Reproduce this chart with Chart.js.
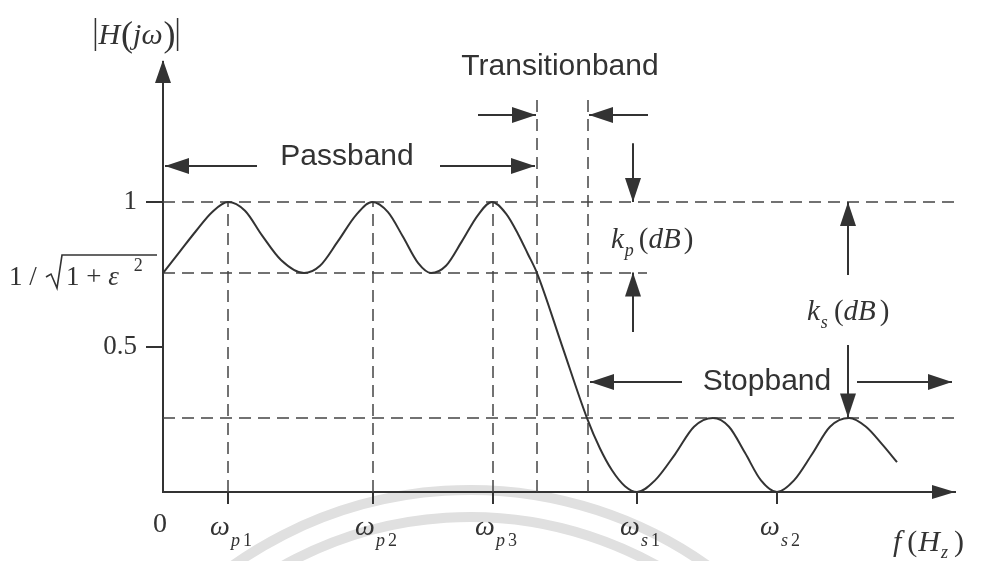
<!DOCTYPE html>
<html>
<head>
<meta charset="utf-8">
<script src="https://cdn.jsdelivr.net/npm/chart.js@4.4.1/dist/chart.umd.min.js"></script>
<style>
  html, body { margin: 0; padding: 0; background: #fff; }
  #wrap { width: 983px; height: 561px; }
</style>
</head>
<body>
<div id="wrap"><canvas id="filterChart" width="983" height="561"></canvas></div>
<script>
// Magnitude response |H(jw)| (x in arbitrary frequency units)
const curveX = [0, 1.7, 3.3, 4.9, 6.5, 8.2, 9.9, 11.8, 14.1, 15.7, 17.5, 19.3, 20.9, 22.5, 24.0, 25.5, 26.8, 28.3, 29.9, 31.5, 32.9, 34.3, 35.5, 36.5, 37.4, 39.9, 42.4, 43.7, 44.9, 46.2, 47.4, 49.2, 51.2, 53.1, 55.0, 56.6, 58.2, 59.8, 61.4, 63.1, 64.9, 66.7, 68.6, 70.3, 71.9, 73.4];
const curveY = [0.755, 0.83, 0.90, 0.965, 1.0, 0.97, 0.885, 0.80, 0.755, 0.78, 0.865, 0.955, 1.0, 0.965, 0.88, 0.79, 0.755, 0.78, 0.865, 0.955, 1.0, 0.96, 0.89, 0.82, 0.755, 0.505, 0.255, 0.15, 0.075, 0.02, 0, 0.04, 0.13, 0.225, 0.255, 0.225, 0.135, 0.04, 0, 0.04, 0.13, 0.225, 0.255, 0.225, 0.165, 0.103];

// Tick positions and labels
const xTickVals = [0, 6.5, 21, 33, 47.4, 61.4];
const xTickSym  = ['0', 'ω', 'ω', 'ω', 'ω', 'ω'];
const xTickSubL = ['', 'p', 'p', 'p', 's', 's'];
const xTickSubN = ['', '1', '2', '3', '1', '2'];
const yTickVals = [0.5, 1];
const yTickLabels = ['0.5', '1'];

// Dashed guide lines
const hLevels = [1, 0.755, 0.255];
const hEnds   = [79.2, 48.4, 79.2];
const vMarks  = [6.5, 21, 33, 37.4, 42.5];
const vTops   = [1, 1, 1, 1.352, 1.352];

// Annotation arrows [x0, y0, x1(tip), y1(tip)]
const arrows = [
  [9.4, 1.124, 0.2, 1.124],
  [27.7, 1.124, 37.2, 1.124],
  [31.5, 1.30, 37.3, 1.30],
  [48.5, 1.30, 42.6, 1.30],
  [47.0, 1.203, 47.0, 1.0],
  [47.0, 0.552, 47.0, 0.757],
  [68.5, 0.748, 68.5, 1.0],
  [68.5, 0.507, 68.5, 0.257],
  [51.9, 0.379, 42.7, 0.379],
  [69.4, 0.379, 78.9, 0.379]
];

const bandNames = ['Passband', 'Transitionband', 'Stopband'];
const bandX = [18.4, 39.7, 60.4];
const bandY = [1.155, 1.466, 0.379];

const INK = '#333';
const SERIF = '"Liberation Serif", "Times New Roman", serif';

const datasets = [{
  data: curveX.map((x, i) => ({ x: x, y: curveY[i] })),
  borderColor: INK,
  borderWidth: 2,
  pointRadius: 0,
  cubicInterpolationMode: 'monotone'
}];
hLevels.forEach((lv, i) => {
  datasets.push({
    data: [{ x: 0, y: lv }, { x: hEnds[i], y: lv }],
    borderColor: '#444', borderWidth: 1.5, borderDash: [12, 7], pointRadius: 0
  });
});
vMarks.forEach((xv, i) => {
  datasets.push({
    data: [{ x: xv, y: 0 }, { x: xv, y: vTops[i] }],
    borderColor: '#444', borderWidth: 1.5, borderDash: [12, 7], pointRadius: 0
  });
});

function fontFor(r) {
  return (r.it ? 'italic ' : '') + (r.size || 28) + 'px ' + SERIF;
}

// draw a row of text runs (for subscripts / italics); returns [start, end]
function drawRuns(ctx, runs, x, y, align) {
  let w = 0;
  runs.forEach(r => {
    ctx.font = fontFor(r);
    r.w = ctx.measureText(r.t).width;
    w += r.w + (r.gap || 0);
  });
  let cx = align === 'center' ? x - w / 2 : x;
  const start = cx;
  runs.forEach(r => {
    ctx.font = fontFor(r);
    ctx.fillText(r.t, cx, y + (r.dy || 0));
    cx += r.w + (r.gap || 0);
  });
  return [start, cx];
}

function arrowHead(ctx, x0, y0, x1, y1, len, half) {
  const a = Math.atan2(y1 - y0, x1 - x0);
  ctx.beginPath();
  ctx.moveTo(x1, y1);
  ctx.lineTo(x1 - len * Math.cos(a) + half * Math.sin(a), y1 - len * Math.sin(a) - half * Math.cos(a));
  ctx.lineTo(x1 - len * Math.cos(a) - half * Math.sin(a), y1 - len * Math.sin(a) + half * Math.cos(a));
  ctx.closePath();
  ctx.fill();
}

const decor = {
  id: 'decor',
  beforeDraw(chart) {
    // faint watermark arcs
    const ctx = chart.ctx;
    ctx.save();
    ctx.strokeStyle = '#e0e0e0';
    ctx.lineWidth = 10;
    ctx.beginPath();
    ctx.arc(470, 900, 410, Math.PI * 1.1, Math.PI * 1.9);
    ctx.stroke();
    ctx.beginPath();
    ctx.arc(470, 900, 383, Math.PI * 1.1, Math.PI * 1.9);
    ctx.stroke();
    ctx.restore();
  },
  afterDraw(chart) {
    const ctx = chart.ctx;
    const xs = chart.scales.x, ys = chart.scales.y;
    const area = chart.chartArea;
    ctx.save();
    ctx.fillStyle = INK;
    ctx.strokeStyle = INK;
    ctx.lineWidth = 2;

    // axis arrow heads
    arrowHead(ctx, area.right - 10, area.bottom, area.right, area.bottom, 23, 7);
    arrowHead(ctx, area.left, area.top + 10, area.left, area.top - 2, 23, 8);

    // annotation arrows
    arrows.forEach(a => {
      const x0 = xs.getPixelForValue(a[0]), y0 = ys.getPixelForValue(a[1]);
      const x1 = xs.getPixelForValue(a[2]), y1 = ys.getPixelForValue(a[3]);
      ctx.beginPath();
      ctx.moveTo(x0, y0);
      ctx.lineTo(x1, y1);
      ctx.stroke();
      arrowHead(ctx, x0, y0, x1, y1, 24, 8);
    });

    // band names
    ctx.font = '30px "Liberation Sans", Arial, sans-serif';
    ctx.textAlign = 'center';
    ctx.textBaseline = 'middle';
    bandNames.forEach((t, i) => {
      ctx.fillText(t, xs.getPixelForValue(bandX[i]), ys.getPixelForValue(bandY[i]));
    });

    ctx.textAlign = 'left';
    ctx.textBaseline = 'alphabetic';

    // x tick labels with subscripts
    xTickVals.forEach((v, i) => {
      const px = xs.getPixelForValue(v);
      if (!xTickSubL[i]) {
        drawRuns(ctx, [{ t: xTickSym[i], size: 28 }], px - 3, area.bottom + 40, 'center');
      } else {
        drawRuns(ctx, [
          { t: xTickSym[i], it: true, size: 28, gap: 1 },
          { t: xTickSubL[i], it: true, size: 18, dy: 11, gap: 3 },
          { t: xTickSubN[i], size: 18, dy: 11 }
        ], px + 3, area.bottom + 43, 'center');
      }
    });

    // 1 / sqrt(1 + e^2) level label
    const yl = ys.getPixelForValue(0.755);
    ctx.font = '27px ' + SERIF;
    ctx.fillText('1 /', 9, yl + 12);
    ctx.lineWidth = 1.6;
    ctx.beginPath();
    ctx.moveTo(46, yl + 4);
    ctx.lineTo(51, yl + 1);
    ctx.lineTo(57, yl + 15);
    ctx.lineTo(62, yl - 18);
    ctx.lineTo(157, yl - 18);
    ctx.stroke();
    drawRuns(ctx, [
      { t: '1 + ', size: 27 },
      { t: 'ε', it: true, size: 27, gap: 15 },
      { t: '2', size: 18, dy: -14 }
    ], 66, yl + 12, 'left');

    // k_p(dB) and k_s(dB)
    drawRuns(ctx, [
      { t: 'k', it: true, size: 29, gap: 1 },
      { t: 'p', it: true, size: 18, dy: 8, gap: 5 },
      { t: '(', size: 29 },
      { t: 'dB', it: true, size: 29, gap: 3 },
      { t: ')', size: 29 }
    ], xs.getPixelForValue(44.8), ys.getPixelForValue(0.841), 'left');
    drawRuns(ctx, [
      { t: 'k', it: true, size: 29, gap: 1 },
      { t: 's', it: true, size: 18, dy: 8, gap: 6 },
      { t: '(', size: 29 },
      { t: 'dB', it: true, size: 29, gap: 4 },
      { t: ')', size: 29 }
    ], xs.getPixelForValue(64.4), ys.getPixelForValue(0.593), 'left');

    // x axis title f(Hz)
    drawRuns(ctx, [
      { t: 'f', it: true, size: 30, gap: 6 },
      { t: '(', size: 30, gap: 1 },
      { t: 'H', it: true, size: 30, gap: 1 },
      { t: 'z', it: true, size: 18, dy: 7, gap: 6 },
      { t: ')', size: 30 }
    ], area.right - 62, area.bottom + 59, 'left');

    // y axis title |H(jw)|
    const span = drawRuns(ctx, [
      { t: 'H', it: true, size: 30, gap: 1 },
      { t: '(', size: 36, dy: 2 },
      { t: 'jω', it: true, size: 30, gap: 1 },
      { t: ')', size: 36, dy: 2 }
    ], area.left - 26, 44, 'center');
    ctx.lineWidth = 1.5;
    ctx.beginPath();
    ctx.moveTo(span[0] - 3, 18); ctx.lineTo(span[0] - 3, 51);
    ctx.moveTo(span[1] + 2, 18); ctx.lineTo(span[1] + 2, 51);
    ctx.stroke();

    ctx.restore();
  }
};

new Chart(document.getElementById('filterChart'), {
  type: 'line',
  data: { datasets: datasets },
  options: {
    responsive: false,
    animation: false,
    layout: { padding: { left: 0, top: 62, right: 28, bottom: 0 } },
    plugins: { legend: { display: false }, tooltip: { enabled: false } },
    scales: {
      x: {
        type: 'linear',
        min: 0,
        max: 79.2,
        afterFit: s => { s.height = 69; },
        afterBuildTicks: s => { s.ticks = xTickVals.map(v => ({ value: v })); },
        ticks: { autoSkip: false, callback: () => '' },
        grid: {
          drawOnChartArea: false,
          tickLength: 12,
          lineWidth: 2,
          color: c => (c.tick && c.tick.value === 0) ? 'rgba(0,0,0,0)' : INK
        },
        border: { color: INK, width: 2 }
      },
      y: {
        min: 0,
        max: 1.4828,
        afterFit: s => { s.width = 163; },
        afterBuildTicks: s => { s.ticks = yTickVals.map(v => ({ value: v })); },
        ticks: {
          autoSkip: false,
          padding: 9,
          color: INK,
          font: { family: SERIF, size: 27 },
          callback: v => yTickLabels[yTickVals.indexOf(v)]
        },
        grid: { drawOnChartArea: false, tickLength: 17, lineWidth: 2, color: INK },
        border: { color: INK, width: 2 }
      }
    }
  },
  plugins: [decor]
});
</script>
</body>
</html>
